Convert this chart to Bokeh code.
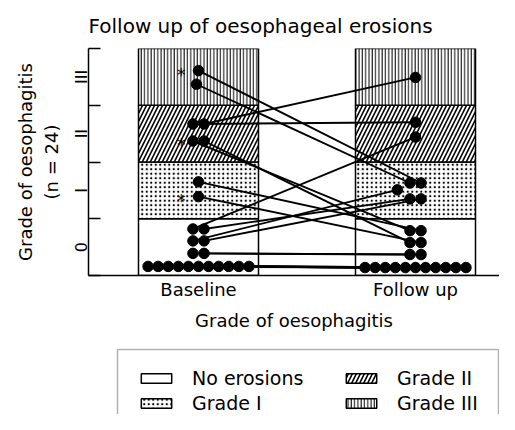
from bokeh.plotting import figure
from bokeh.models import Range1d, FixedTicker, Legend, LegendItem, BoxAnnotation
from bokeh.layouts import column
from bokeh.embed import file_html
from bokeh.resources import INLINE
from bokeh.core.properties import value

# ---------------- data ----------------
timepoints = ["Baseline", "Follow up"]
grade_labels = ["0", "I", "II", "III"]
legend_labels = ["No erosions", "Grade I", "Grade II", "Grade III"]

# vertical position of each patient on the grade scale (band g spans g..g+1)
baseline_level = [3.61, 3.37, 2.67, 2.67, 2.37, 2.37, 1.65, 1.39,
                  0.82, 0.82, 0.61, 0.61, 0.39, 0.39] + [0.16] * 11
followup_level = [1.63, 1.63, 2.70, 3.49, 0.79, 0.58, 0.79, 0.58,
                  2.44, 1.35, 1.51, 1.35, 0.37, 0.37] + [0.14] * 11
# horizontal slot of each dot within its column
baseline_slot = [0, -0.2, -0.55, 0.55, -0.55, 0.55, 0, 0,
                 -0.55, 0.55, -0.55, 0.55, -0.55, 0.55, -5, -4, -3, -2, -1, 0, 1, 2, 3, 4, 5]
followup_slot = [0.55, -0.55, 0, 0, -0.55, -0.55, 0.55, 0.55,
                 0, -0.55, -1.8, 0.55, -0.55, 0.55, -5, -4, -3, -2, -1, 0, 1, 2, 3, 4, 5]
starred = [0, 4, 7]   # patients marked with an asterisk

# ---------------- layout constants ----------------
FONT = "DejaVu Sans"
col_x = {"Baseline": 1.0, "Follow up": 2.0}
half_bar = 0.2765
slot_w = 0.0465

styles = [dict(fill_color="white"),
          dict(fill_color="white", hatch_pattern=".", hatch_scale=4.5, hatch_weight=1.4, hatch_color="black"),
          dict(fill_color="white", hatch_pattern="/", hatch_scale=8, hatch_weight=1.6, hatch_color="black"),
          dict(fill_color="white", hatch_pattern="|", hatch_scale=3.3, hatch_weight=1.0, hatch_color="black")]

p = figure(width=499, height=340, output_backend="svg", toolbar_location=None,
           x_range=Range1d(0.4931, 2.3871), y_range=Range1d(0, 4),
           min_border_left=88, min_border_right=0, min_border_top=47, min_border_bottom=65)
p.outline_line_color = None
p.xgrid.visible = False
p.ygrid.visible = False

# bands
for g, st in enumerate(styles):
    lefts = [col_x[t] - half_bar for t in timepoints]
    rights = [col_x[t] + half_bar for t in timepoints]
    p.quad(left=lefts, right=rights, bottom=[g] * 2, top=[g + 1] * 2,
           line_color="black", line_width=1.5, **st)

# connecting lines and dots
bx = [col_x["Baseline"] + s * slot_w for s in baseline_slot]
fx = [col_x["Follow up"] + s * slot_w for s in followup_slot]
p.segment(x0=bx, y0=baseline_level, x1=fx, y1=followup_level, line_color="black", line_width=1.9)
p.scatter(x=bx + fx, y=baseline_level + followup_level, size=10.5,
          fill_color="black", line_color="black")

# asterisks
p.text(x=[col_x["Baseline"] - 1.7 * slot_w for i in starred], y=[baseline_level[i] for i in starred],
       text=["*"] * len(starred), text_align="center", text_baseline="middle",
       text_font=value(FONT), text_font_size="17px", y_offset=4, text_color="black")

# axes
p.xaxis.ticker = FixedTicker(ticks=[col_x[t] for t in timepoints])
p.xaxis.major_label_overrides = {col_x[t]: t for t in timepoints}
p.xaxis.major_tick_line_color = None
p.xaxis.major_tick_in = 0
p.xaxis.major_tick_out = 0
p.xaxis.minor_tick_line_color = None
p.xaxis.axis_line_width = 1.5
p.xaxis.axis_line_color = "black"
p.xaxis.axis_label = "Grade of oesophagitis"
p.xaxis.axis_label_text_font = FONT
p.xaxis.axis_label_text_font_style = "normal"
p.xaxis.axis_label_text_font_size = "18px"
p.xaxis.axis_label_text_color = "black"
p.xaxis.major_label_text_font = FONT
p.xaxis.major_label_text_font_size = "18px"
p.xaxis.major_label_text_color = "black"
p.xaxis.major_label_standoff = 3
p.xaxis.axis_label_standoff = 7

p.yaxis.ticker = FixedTicker(ticks=[g + 0.5 for g in range(4)], minor_ticks=[0, 1, 2, 3, 4])
p.yaxis.major_label_overrides = {g + 0.5: grade_labels[g] for g in range(4)}
p.yaxis.major_tick_line_color = None
p.yaxis.major_tick_in = 0
p.yaxis.major_tick_out = 0
p.yaxis.minor_tick_in = 12
p.yaxis.minor_tick_out = 0
p.yaxis.minor_tick_line_color = "black"
p.yaxis.minor_tick_line_width = 1.5
p.yaxis.axis_line_width = 1.5
p.yaxis.axis_line_color = "black"
p.yaxis.major_label_orientation = "vertical"
p.yaxis.major_label_text_font = FONT
p.yaxis.major_label_text_font_size = "16px"
p.yaxis.major_label_text_color = "black"
p.yaxis.major_label_standoff = -2
p.yaxis.axis_label = "Grade of oesophagitis\n(n = 24)"
p.yaxis.axis_label_text_font = FONT
p.yaxis.axis_label_text_font_style = "normal"
p.yaxis.axis_label_text_font_size = "18px"
p.yaxis.axis_label_text_color = "black"
p.yaxis.axis_label_standoff = 7

p.title.text = "Follow up of oesophageal erosions"
p.title.text_font = FONT
p.title.text_font_size = "20px"
p.title.text_font_style = "normal"
p.title.text_color = "black"
p.title.align = "left"
p.title.standoff = 22

# ---------------- legend panel ----------------
q = figure(width=499, height=74, output_backend="svg", toolbar_location=None,
           x_axis_location=None, y_axis_location=None,
           x_range=Range1d(88, 499), y_range=Range1d(0, 74),
           min_border_left=88, min_border_right=0, min_border_top=0, min_border_bottom=0)
q.outline_line_color = None
q.grid.visible = False
# legend frame (open at the bottom, as in the cropped original)
q.add_layout(BoxAnnotation(left=117, right=498, top=65, bottom=-20, fill_alpha=0,
                           line_color="black", line_width=1.5))
proxies = [q.quad(left=[col_x["Baseline"]], right=[col_x["Follow up"]], bottom=[g], top=[g + 1],
                  line_color="black", line_width=1.5, visible=False, **st)
           for g, st in enumerate(styles)]
legend = Legend(items=[LegendItem(label=legend_labels[g], renderers=[proxies[g]]) for g in range(4)],
                location=(49, 0), ncols=2, orientation="vertical", margin=0, padding=0)
legend.glyph_width = 38
legend.glyph_height = 12
legend.label_standoff = 17
legend.label_text_font = FONT
legend.label_text_font_size = "19px"
legend.label_text_color = "black"
legend.label_width = 147
legend.spacing = 3
legend.border_line_color = None
legend.background_fill_alpha = 0
q.add_layout(legend, "center")

open("out.html", "w").write(file_html(column(p, q, spacing=0), INLINE))
